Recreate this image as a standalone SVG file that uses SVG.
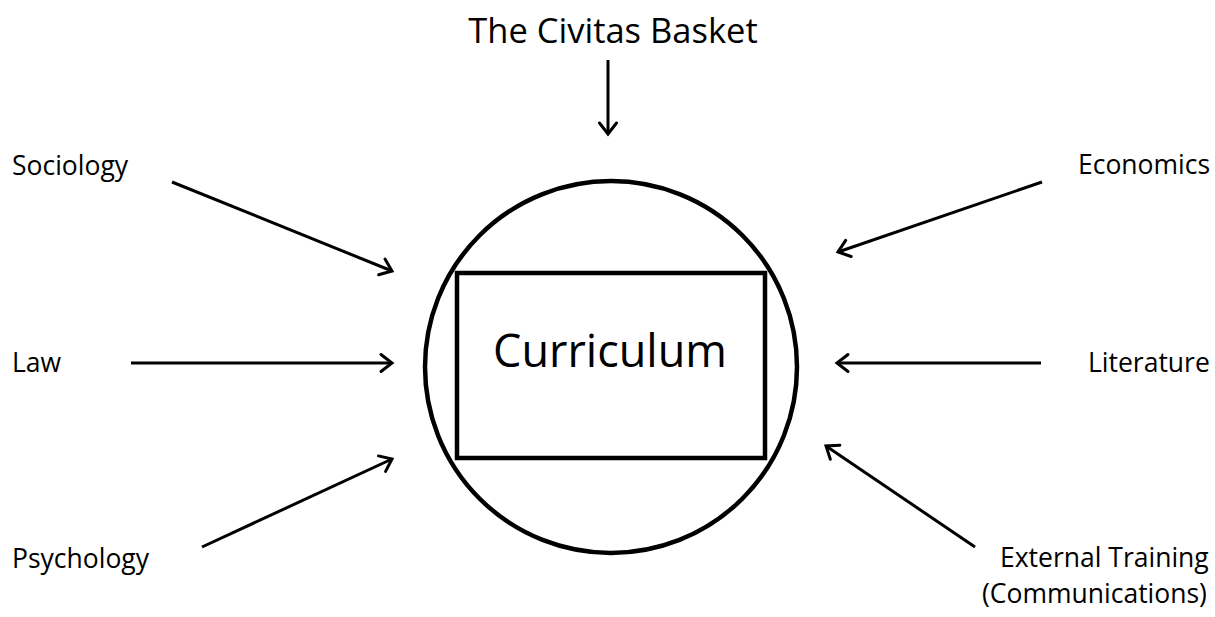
<svg xmlns="http://www.w3.org/2000/svg" width="1215" height="617" viewBox="0 0 1215 617">
<style>
  text { font-family: "Open Sans", "Liberation Sans", sans-serif; fill: #000; }
  .lbl { font-size: 26.5px; }
  .title { font-size: 34.5px; }
  .big { font-size: 45px; }
  .shape { fill: none; stroke: #000; stroke-width: 4.5; }
  .conn line { stroke: #000; stroke-width: 3; marker-end: url(#arr); }
</style>
<defs>
  <marker id="arr" markerUnits="userSpaceOnUse" markerWidth="30" markerHeight="30" viewBox="-15 -15 30 30" refX="0" refY="0" orient="auto">
    <path d="M-11,-8.5 L0,0 L-11,8.5" fill="none" stroke="#000" stroke-width="3" stroke-linecap="round" stroke-linejoin="miter"/>
  </marker>
</defs>
<rect width="1215" height="617" fill="#fff"/>
<g id="basket">
  <circle class="shape" cx="611" cy="367" r="186"/>
</g>
<g id="curriculum">
  <rect class="shape" x="457" y="273" width="308" height="185" stroke-width="4"/>
  <text class="big" x="610" y="367" text-anchor="middle">Curriculum</text>
</g>
<g id="title"><text class="title" x="613" y="43" text-anchor="middle">The Civitas Basket</text></g>
<g id="sociology"><text class="lbl" x="12" y="175">Sociology</text></g>
<g id="law"><text class="lbl" x="12" y="372">Law</text></g>
<g id="psychology"><text class="lbl" x="12" y="568">Psychology</text></g>
<g id="economics"><text class="lbl" x="1078" y="174">Economics</text></g>
<g id="literature"><text class="lbl" x="1088" y="372">Literature</text></g>
<g id="external">
  <text class="lbl" x="1000" y="567">External Training</text>
  <text class="lbl" x="982" y="603">(Communications)</text>
</g>
<g id="connectors" class="conn">
  <line x1="608" y1="60" x2="608" y2="134"/>
  <line x1="172" y1="182" x2="392" y2="271"/>
  <line x1="131" y1="363" x2="392" y2="363"/>
  <line x1="202" y1="547" x2="392" y2="459"/>
  <line x1="1042" y1="182" x2="838" y2="252"/>
  <line x1="1041" y1="363" x2="837" y2="363"/>
  <line x1="975" y1="547" x2="826" y2="446"/>
</g>
</svg>
